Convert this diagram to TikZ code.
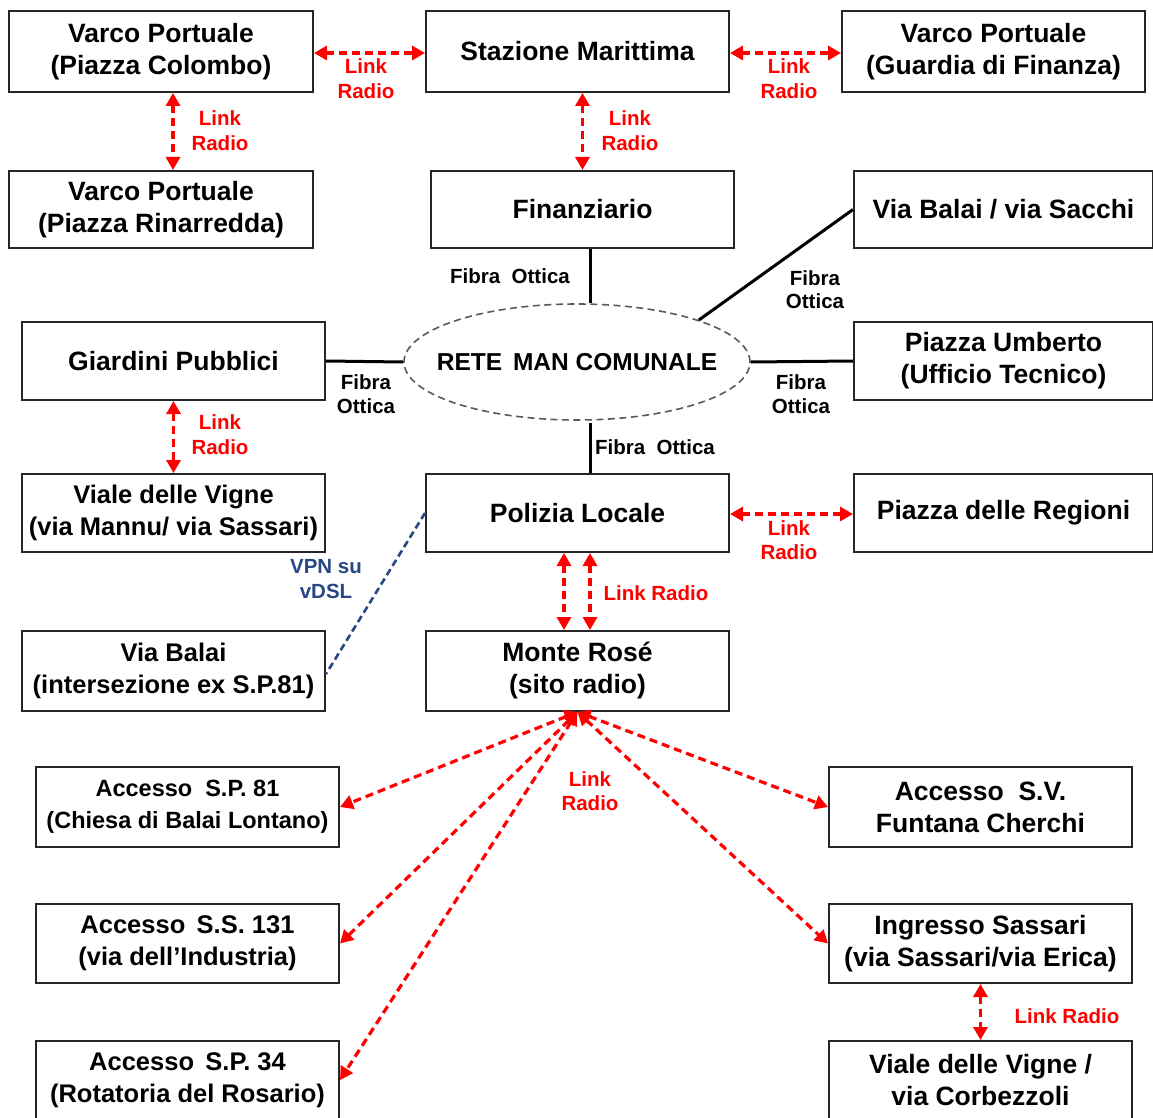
\documentclass[tikz,border=0pt]{standalone}
\usepackage{fontspec}
\setmainfont{Liberation Sans}
\usetikzlibrary{arrows.meta,shapes.geometric}
\definecolor{radiored}{RGB}{255,0,0}
\definecolor{vpnblue}{RGB}{40,72,130}
\begin{document}
\begin{tikzpicture}[x=1pt,y=-1pt,
  box/.style={draw=black!85,line width=2pt,rectangle,inner sep=0pt,minimum width=303pt,
    align=center,font=\fontsize{26.5}{32}\selectfont\bfseries},
  fsmall/.style={font=\fontsize{25.5}{32}\selectfont\bfseries},
  lbl/.style={align=center,font=\fontsize{20.5}{24.5}\selectfont\bfseries,inner sep=0pt},
  rlbl/.style={lbl,text=radiored},
  radio/.style={draw=radiored,line width=3.2pt,dash pattern=on 8pt off 5pt,
    {Triangle[length=13pt,width=14pt,fill=radiored]}-{Triangle[length=13pt,width=14pt,fill=radiored]}},
  fibra/.style={draw=black,line width=3pt},
  vpn/.style={draw=vpnblue,line width=2.6pt,dash pattern=on 7pt off 4pt}]
\useasboundingbox (0,0) rectangle (1153,1118);
% boxes
\node[box,minimum width=304pt,minimum height=81pt] (vc) at (161,51.5) {Varco Portuale\\(Piazza Colombo)};
\node[box,minimum height=81pt] (sm) at (577.5,51.5) {Stazione Marittima};
\node[box,minimum height=81pt] (gdf) at (993.5,51.5) {Varco Portuale\\(Guardia di Finanza)};
\node[box,minimum width=304pt,minimum height=77pt] (vr) at (161,209.5) {Varco Portuale\\(Piazza Rinarredda)};
\node[box,minimum height=77pt] (fin) at (582.5,209.5) {Finanziario};
\node[box,minimum width=299pt,minimum height=77pt] (vbs) at (1003.5,209.5) {Via Balai / via Sacchi};
\node[box,minimum height=78pt] (gp) at (173.5,361) {Giardini Pubblici};
\node[box,minimum width=299pt,minimum height=78pt] (pu) at (1003.5,361) {Piazza Umberto\\(Ufficio Tecnico)};
\node[draw=black!65,line width=1.6pt,dash pattern=on 7pt off 4.5pt,ellipse,minimum width=346pt,minimum height=116pt,inner sep=0pt] (man) at (577,362) {};
\node[font=\fontsize{24.5}{28}\selectfont\bfseries,inner sep=0pt] (mantext) at (man.center) {RETE\,\ MAN COMUNALE};
\node[box,fsmall,minimum height=78pt] (vv) at (173.5,513) {Viale delle Vigne\\(via Mannu/ via Sassari)};
\node[box,minimum height=78pt] (pl) at (577.5,513) {Polizia Locale};
\node[box,minimum width=299pt,minimum height=78pt] (pr) at (1003.5,513) {Piazza delle Regioni};
\node[box,fsmall,minimum height=80pt] (vb) at (173.5,671) {Via Balai\\(intersezione ex S.P.81)};
\node[box,minimum height=80pt] (mr) at (577.5,671) {Monte Rosé\\(sito radio)};
\node[box,minimum height=80pt,font=\fontsize{23.5}{32}\selectfont\bfseries] (sp81) at (187.5,807) {Accesso\ \ S.P. 81\\(Chiesa\ di Balai Lontano)};
\node[box,minimum height=80pt] (sv) at (980.5,807) {Accesso\ \ S.V.\\Funtana Cherchi};
\node[box,fsmall,minimum height=79pt] (ss131) at (187.5,943.5) {Accesso\ \,S.S. 131\\(via dell’Industria)};
\node[box,minimum height=79pt] (is) at (980.5,943.5) {Ingresso Sassari\\(via Sassari/via Erica)};
\node[box,fsmall,minimum height=78pt] (sp34) at (187.5,1080) {Accesso\ \,S.P. 34\\(Rotatoria del Rosario)};
\node[box,minimum height=78pt] (vc2) at (980.5,1080) {Viale delle Vigne /\\via Corbezzoli};
% radio links
\draw[radio] ([yshift=-1.5pt]vc.east) -- ([yshift=-1.5pt]sm.west);
\draw[radio] ([yshift=-1.5pt]sm.east) -- ([yshift=-1.5pt]gdf.west);
\draw[radio] ([xshift=12pt]vc.south) -- ([xshift=12pt]vr.north);
\draw[radio] (fin.north |- sm.south) -- (fin.north);
\draw[radio] (gp.south) -- (vv.north);
\draw[radio] ([yshift=-1pt]pl.east) -- ([yshift=-1pt]pr.west);
\draw[radio] ([xshift=-13.5pt]pl.south) -- ([xshift=-13.5pt]mr.north);
\draw[radio] ([xshift=12.5pt]pl.south) -- ([xshift=12.5pt]mr.north);
\draw[radio] (mr.south) -- (sp81.east);
\draw[radio] (mr.south) -- (ss131.east);
\draw[radio] (mr.south) -- (sp34.east);
\draw[radio] (mr.south) -- (sv.west);
\draw[radio] (mr.south) -- (is.west);
\draw[radio] (is.south) -- (vc2.north);
% fibre links
\draw[fibra] ([xshift=7.5pt]fin.south) -- ([xshift=7.5pt]fin.south |- man.north);
\draw[fibra] (vbs.west) -- (man.19);
\draw[fibra] (gp.east) -- (man.west);
\draw[fibra] (man.east) -- (pu.west);
\draw[fibra] ([xshift=12.5pt]pl.north) -- ([xshift=12.5pt,yshift=-2pt]pl.north |- man.south);
% vpn
\draw[vpn] (pl.west) -- ([yshift=-3pt]vb.east);
% labels
\node[rlbl] (l1) at (366,78.5) {Link\\Radio};
\node[rlbl] (l2) at (789,78.5) {Link\\Radio};
\node[rlbl] (l3) at (220,130.5) {Link\\Radio};
\node[rlbl] (l4) at (630,130.5) {Link\\Radio};
\node[lbl] (f1) at (510,276) {Fibra\ \ Ottica};
\node[lbl,font=\fontsize{20.5}{23}\selectfont\bfseries] (f2) at (815,289.5) {Fibra\\Ottica};
\node[lbl] (f3) at (366,394) {Fibra\\Ottica};
\node[lbl] (f4) at (801,394) {Fibra\\Ottica};
\node[lbl] (f5) at (655,447) {Fibra\ \ Ottica};
\node[rlbl] (l5) at (220,434.5) {Link\\Radio};
\node[rlbl] (l6) at (789,540) {Link\\Radio};
\node[rlbl] (l7) at (656,593) {Link Radio};
\node[lbl,text=vpnblue] (vp) at (326,579) {VPN su\\vDSL};
\node[rlbl] (l8) at (590,791) {Link\\Radio};
\node[rlbl] (l9) at (1067,1016) {Link Radio};
\end{tikzpicture}
\end{document}
